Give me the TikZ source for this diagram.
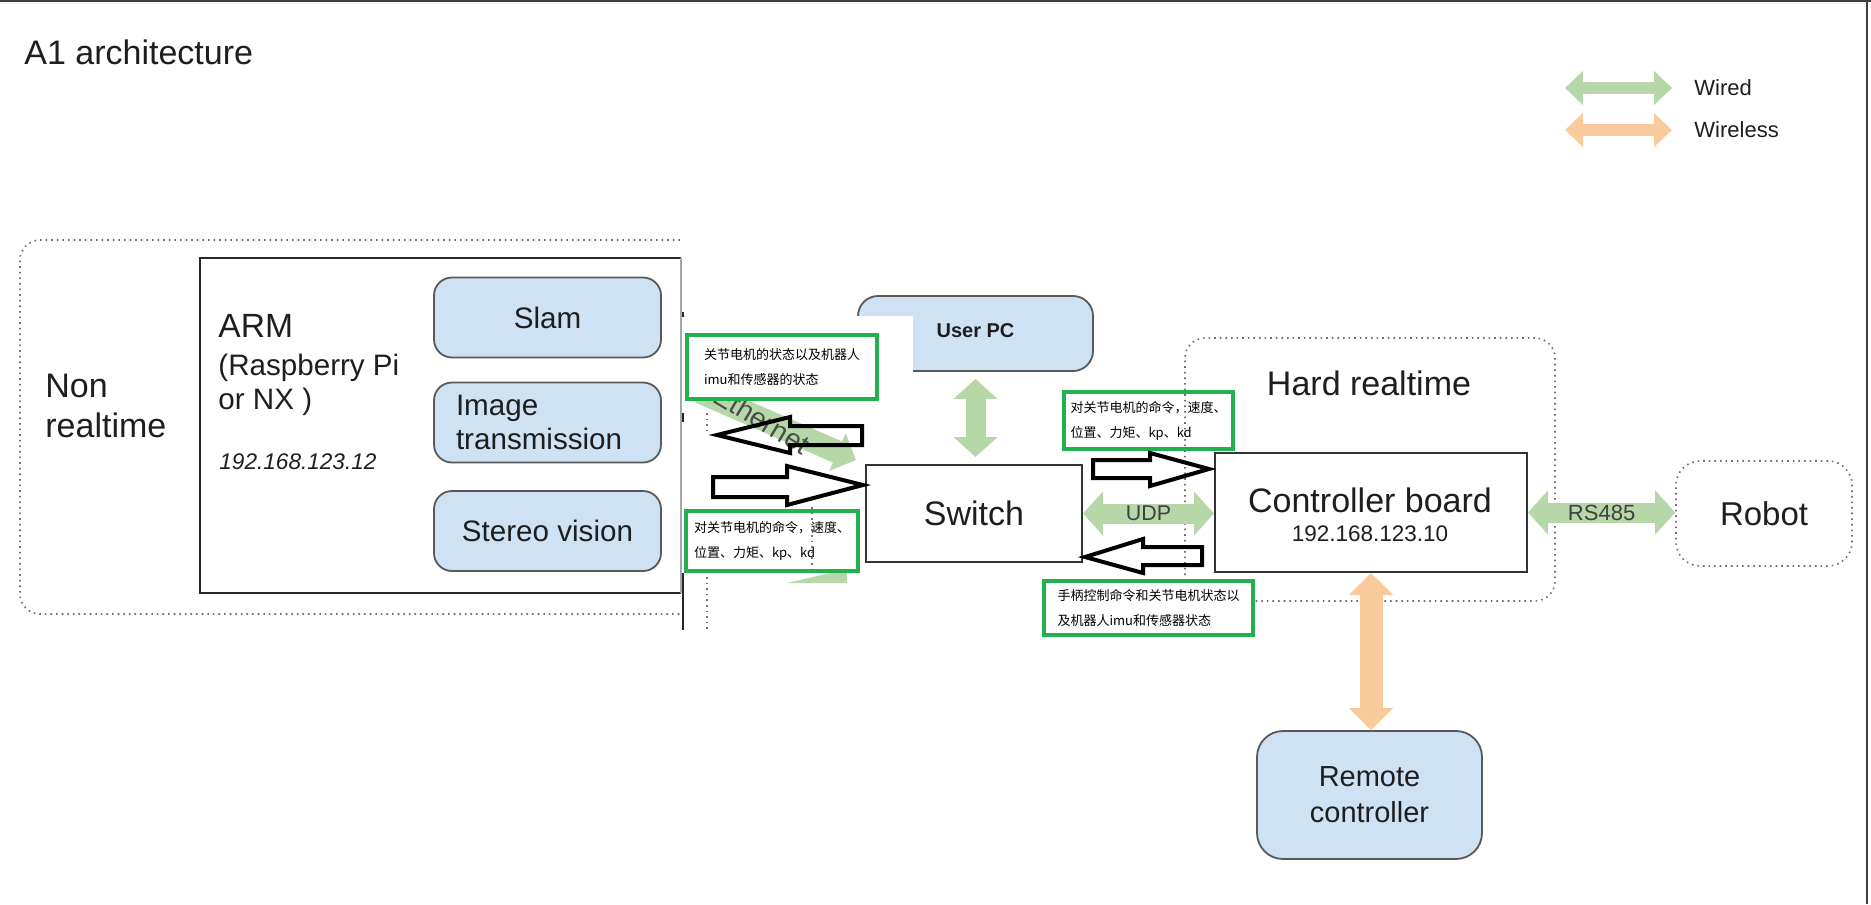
\documentclass[tikz,border=0pt]{standalone}
\usepackage{fontspec}
\setmainfont{Liberation Sans}
\newfontfamily\cjk{Noto Sans CJK SC}
\usepackage{xcolor}
\usepackage{tikz}
\usetikzlibrary{arrows.meta,positioning}

\definecolor{wiredgreen}{HTML}{B6D7A8}
\definecolor{wirelessorange}{HTML}{F9CB9C}
\definecolor{boxblue}{HTML}{CFE2F3}
\definecolor{boxgray}{HTML}{595959}
\definecolor{notegreen}{HTML}{22B14C}
\definecolor{inkgray}{HTML}{1E1E1E}
\definecolor{dotgray}{HTML}{6F6F6F}

\begin{document}
\begin{tikzpicture}
  [
    x=0.5pt, y=-0.5pt,
    every node/.style={text=inkgray},
    caption/.style={inner sep=0pt},
    area/.style={inner sep=0pt,outer sep=0pt},
    trace/.style={draw=dotgray,dotted,line width=0.8pt},
    region/.style={trace,rounded corners=10pt},
    app/.style={rectangle,rounded corners=9pt,draw=boxgray,fill=boxblue,line width=0.9pt,
      minimum width=113.5pt,minimum height=40pt,font=\fontsize{14.8}{17}\selectfont},
    unit/.style={rectangle,draw=black!80,line width=1pt},
    note/.style={rectangle,draw=notegreen,line width=2pt,align=left,text=black,
      font=\cjk\fontsize{6.5}{12.5}\selectfont},
    wired/.style={draw=wiredgreen,line width=10pt},
    wireless/.style={draw=wirelessorange,line width=11.5pt},
    both heads/.style={{Triangle[width=21.5pt,length=10pt]}-{Triangle[width=21.5pt,length=10pt]}},
    orange heads/.style={{Triangle[width=21.5pt,length=11pt]}-{Triangle[width=21.5pt,length=11pt]}},
    legend heads/.style={{Triangle[width=16.5pt,length=9pt]}-{Triangle[width=16.5pt,length=9pt]}},
    hollow arrow/.style={draw=black,line width=2pt,line join=miter},
    border line/.style={draw=black!75,line width=1.3pt},
    edge line/.style={draw=black!85,line width=1.3pt}
  ]
  \useasboundingbox (0,0) rectangle (1871,904);
  \draw[border line] (0,1) -- (1871,1);
  \draw[border line] (1867,0) -- (1867,904);

  % title and legend
  \node[caption,anchor=base west,font=\fontsize{17}{20}\selectfont] (title) at (24,65) {A1 architecture};
  \coordinate (wired start) at (1565,88);
  \coordinate (wired end) at (1672,88);
  \coordinate (wireless start) at (1565,130);
  \coordinate (wireless end) at (1672,130);
  \draw[draw=wiredgreen,line width=6pt,legend heads] (wired start) -- (wired end);
  \draw[draw=wirelessorange,line width=6pt,legend heads] (wireless start) -- (wireless end);
  \node[caption,font=\fontsize{11}{13}\selectfont] (wired text) [right=11pt of wired end] {Wired};
  \node[caption,font=\fontsize{11}{13}\selectfont] (wireless text) [right=11pt of wireless end] {Wireless};

  % non realtime side
  \node[area,minimum width=330pt,minimum height=187pt] (nonrt) at (350,427) {};
  \draw[region] (nonrt.north east) -- (nonrt.north west) -- (nonrt.south west) -- (nonrt.south east);
  \node[caption,align=left,anchor=west,font=\fontsize{17}{20}\selectfont] (nonrt text) at (45,406) {Non\\realtime};

  \node[area,minimum width=240.5pt,minimum height=167.5pt] (arm) at (440.5,425.5) {};
  \draw[line width=1.2pt,draw=black!85] (arm.north east) -- (arm.north west) -- (arm.south west) -- (arm.south east);
  \draw[draw=black!35,line width=0.6pt] (arm.north east) -- (arm.south east);
  \node[caption,anchor=base west,font=\fontsize{16.8}{20}\selectfont] (arm name) at (218,337) {ARM};
  \node[caption,anchor=base west,font=\fontsize{14.8}{17}\selectfont] (arm model) at (218,375) {(Raspberry Pi};
  \node[caption,anchor=base west,font=\fontsize{14.8}{17}\selectfont] (arm model 2) at (218,409) {or NX )};
  \node[caption,anchor=base west,font=\fontsize{11.3}{14}\selectfont\itshape] (arm ip) at (219,469) {192.168.123.12};

  \node[app] (slam) at (547.5,317.5) {Slam};
  \node[app,align=left,text width=91.5pt,inner xsep=11pt] (image) at (547.5,422.5) {Image\\transmission};
  \node[app] (stereo) at (547.5,531) {Stereo vision};

  % hard realtime side
  \node[region,minimum width=185pt,minimum height=131.5pt] (hardrt) at (1370,469.5) {};
  \node[caption,font=\fontsize{17}{20}\selectfont] (hardrt text) at (1369,383) {Hard realtime};
  \node[region,rounded corners=12pt,minimum width=88pt,minimum height=52.5pt,
    font=\fontsize{16.5}{20}\selectfont] (robot) at (1764,513.5) {Robot};

  \node[app,minimum width=117.5pt,minimum height=37.5pt,rounded corners=10pt,
    font=\fontsize{10}{12}\selectfont\bfseries] (userpc) at (975.5,333.5) {\raisebox{2.5pt}{User PC}};
  \fill[white] (683,316) rectangle (913,412);

  \node[unit,minimum width=108pt,minimum height=48.5pt,font=\fontsize{17}{20}\selectfont] (switch) at (974,513.5) {Switch};
  \node[unit,minimum width=156pt,minimum height=59.5pt] (ctrl) at (1371,512.5) {};
  \node[caption,font=\fontsize{17}{20}\selectfont] (ctrl name) at (1370,500) {Controller board};
  \node[caption,font=\fontsize{11.25}{14}\selectfont] (ctrl ip) at (1370,534) {192.168.123.10};
  \node[app,minimum width=112.5pt,minimum height=64pt,rounded corners=13pt,align=center,
    font=\fontsize{14.5}{18}\selectfont] (remote) at (1369.5,795) {Remote\\controller};

  % links
  \draw[wired,both heads,shorten <=3.5pt,shorten >=3.5pt] (userpc.south) -- (userpc.south |- switch.north);
  \draw[wired,both heads] (switch.east) -- node[caption,font=\fontsize{10.7}{13}\selectfont,text=black!75] (udp) {UDP} (switch.east -| ctrl.west);
  \draw[wired,both heads] (ctrl.east) -- node[caption,font=\fontsize{11}{13}\selectfont,text=black!75] (rs485) {RS485} (ctrl.east -| robot.west);
  \draw[wireless,orange heads] (ctrl.south) -- (ctrl.south |- remote.north);

  % ethernet link, mostly hidden by the pasted notes
  \coordinate (eth start) at (700,392);
  \draw[wired,line width=11.5pt,-{Triangle[width=20pt,length=10pt]},shorten >=5pt] (eth start) -- (switch.north west);
  \node[caption,rotate=-31,font=\fontsize{14}{16}\selectfont,text=black!70] (eth text) at (762,420) {Ethernet};
  \fill[wiredgreen] (787,583) -- (830,573) -- (847,573) -- (847,583) -- cycle;

  % remains of the pasted screenshot
  \draw[trace] (707,413) -- (707,432);
  \draw[trace] (707,577) -- (707,630);
  \draw[edge line] (683,312) -- (683,317);
  \draw[edge line] (683,413) -- (683,422);
  \draw[edge line] (683,573) -- (683,630);

  % notes
  \node[note,fill=white,minimum width=95pt,minimum height=32pt] (state note) at (782,367)
    {关节电机的状态以及机器人\\imu和传感器的状态};
  \node[note,minimum width=83.5pt,minimum height=28.5pt] (command note) at (1148.5,420.5)
    {对关节电机的命令，速度、\\位置、力矩、kp、kd};
  \node[note,fill=white,minimum width=86pt,minimum height=30pt] (command note 2) at (772,541)
    {对关节电机的命令，速度、\\位置、力矩、kp、kd};
  \draw[trace] (812,507) -- (812,570);
  \node[note,fill=white,minimum width=104.5pt,minimum height=27pt] (feedback note) at (1148.5,608)
    {手柄控制命令和关节电机状态以\\及机器人imu和传感器状态};

  % hollow arrows
  \draw[hollow arrow] (717,435) -- (790,417) -- (790,426) -- (862,426) -- (862,445) -- (790,445) -- (790,453) -- cycle;
  \draw[hollow arrow] (863,485) -- (787,466) -- (787,477) -- (713,477) -- (713,497) -- (787,497) -- (787,505) -- cycle;
  \draw[hollow arrow] (1209,469) -- (1150,453) -- (1150,460) -- (1093,460) -- (1093,478) -- (1150,478) -- (1150,486) -- cycle;
  \draw[hollow arrow] (1085,557) -- (1143,539) -- (1143,547) -- (1202,547) -- (1202,565) -- (1143,565) -- (1143,573) -- cycle;
\end{tikzpicture}
\end{document}
